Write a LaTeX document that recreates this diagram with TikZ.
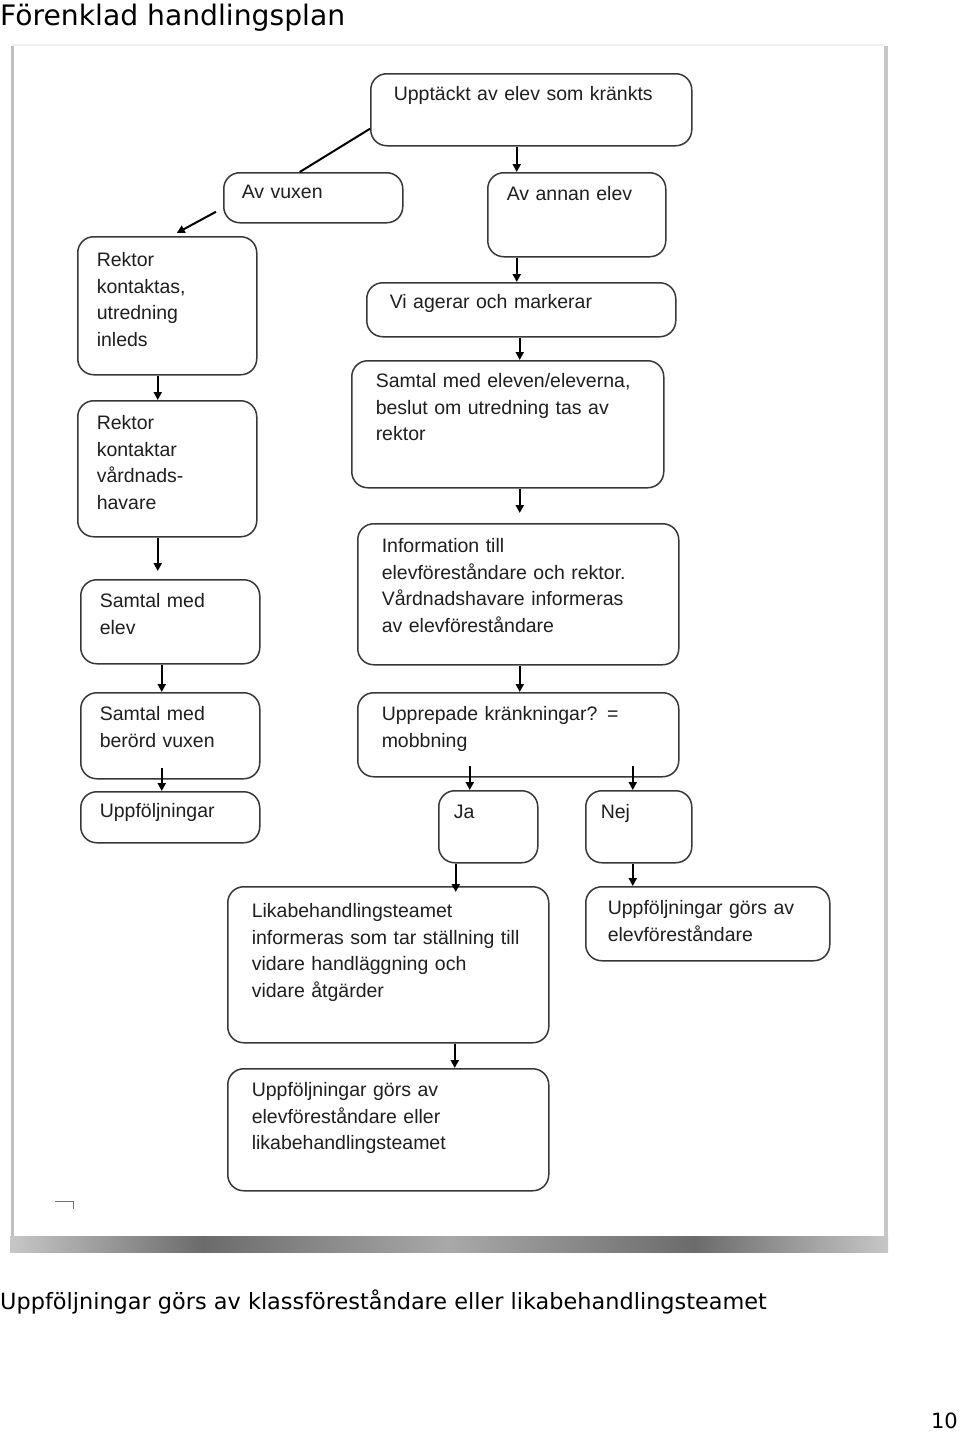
\documentclass[tikz,border=0pt]{standalone}
\usepackage{fontspec}
\setmainfont{Liberation Sans}
\newfontfamily\pagefont{DejaVu Sans}
\usetikzlibrary{arrows.meta}
\pgfdeclarehorizontalshading{curl}{100bp}{color(0bp)=(black!22); color(25bp)=(black!22); color(36bp)=(black!58); color(50bp)=(black!34); color(64bp)=(black!58); color(75bp)=(black!22); color(100bp)=(black!22)}

\begin{document}
\begin{tikzpicture}[x=1pt,y=-1pt,
    box/.style={draw=black!78, line width=1.5pt, rounded corners=16pt, fill=white,
      anchor=north west, inner xsep=19pt, inner ysep=0pt, text height=28pt,
      align=left, text=black!88, font=\fontsize{19.5}{26.5}\selectfont},
    arr/.style={line width=2pt, -{Triangle[length=8pt,width=8pt]}},
    heading/.style={font=\pagefont\fontsize{28.2}{34}\selectfont, inner sep=0pt},
    pagetext/.style={font=\pagefont\fontsize{22.4}{26}\selectfont, inner sep=0pt}]
  \useasboundingbox (0,0) rectangle (960,1432);

  % the page and its shadow
  \draw[black!6, line width=2pt] (12,45) -- (884,45);
  \draw[black!25, line width=3pt] (12,46) -- (12,1237);
  \draw[black!22, line width=4pt] (886,46) -- (886,1237);
  \shade[shading=curl] (10,1236) rectangle (888,1252);
  \draw[black!55, line width=0.8pt] (55,1201) -- (73,1201) -- (73,1209);

  % left column
  \node[box, text width=141pt, text height=30pt, text depth=108pt] (principal) at (77,236)
    {Rektor\\ kontaktas,\\ utredning\\ inleds};
  \node[box, text width=141pt, text height=29pt, text depth=107pt] (guardians) at (77,400)
    {Rektor\\ kontaktar\\ vårdnads-\\ havare};
  \node[box, text width=141pt, text depth=56pt] (talkpupil) at (80,579) {Samtal med\\ elev};
  \node[box, text width=141pt, text depth=58pt] (talkadult) at (80,692) {Samtal med\\ berörd vuxen};
  \node[box, text width=141pt, text height=26pt, text depth=25pt] (followup) at (80,791) {Uppföljningar};

  % top and right column
  \node[box, inner xsep=23pt, text width=275pt, text height=27pt, text depth=45pt] (detect) at (370,73)
    {Upptäckt av elev som kränkts};
  \node[box, inner xsep=18pt, text width=143pt, text height=26pt, text depth=24pt] (adult) at (223,172) {Av vuxen};
  \node[box, text width=140pt, text depth=56pt] (pupil) at (487,172) {Av annan elev};
  \node[box, inner xsep=23pt, text width=263pt, text height=26pt, text depth=28pt] (act) at (366,282)
    {Vi agerar och markerar};
  \node[box, inner xsep=24pt, text width=264pt, text height=27pt, text depth=100pt] (talk) at (351,360)
    {Samtal med eleven/eleverna,\\ beslut om utredning tas av\\ rektor};
  \node[box, inner xsep=24pt, text width=273pt, text height=29pt, text depth=112pt] (inform) at (357,523)
    {Information till\\ elevföreståndare och rektor.\\ Vårdnadshavare informeras\\ av elevföreståndare};
  \node[box, inner xsep=24pt, text width=273pt, text depth=56pt] (repeated) at (357,692)
    {Upprepade kränkningar? =\\ mobbning};
  \node[box, inner xsep=15pt, text width=69pt, text depth=44pt] (yes) at (438,790) {Ja};
  \node[box, inner xsep=15pt, text width=76pt, text depth=44pt] (no) at (585,790) {Nej};
  \node[box, inner xsep=24pt, text width=273pt, text height=31pt, text depth=125pt] (team) at (227,886)
    {Likabehandlingsteamet\\ informeras som tar ställning till\\ vidare handläggning och\\ vidare åtgärder};
  \node[box, inner xsep=22pt, text width=200pt, text depth=46pt] (mentor) at (585,886)
    {Uppföljningar görs av\\ elevföreståndare};
  \node[box, inner xsep=24pt, text width=273pt, text depth=94pt] (final) at (227,1068)
    {Uppföljningar görs av\\ elevföreståndare eller\\ likabehandlingsteamet};

  % connectors
  \draw[line width=2pt] ([yshift=-19pt]detect.west) -- ([xshift=-13.5pt]adult.north);
  \draw[arr] ([xshift=-7pt,yshift=-14pt]adult.west) -- ([xshift=9.5pt,yshift=3pt]principal.north);
  \draw[arr] ([xshift=-14.5pt]detect.south) -- ([xshift=-60pt]pupil.north);
  \draw[arr] ([xshift=-60pt]pupil.south) -- ([xshift=-4.5pt]act.north);
  \draw[arr] ([xshift=-1.5pt]act.south) -- ([xshift=12pt]talk.north);
  \draw[arr] ([xshift=12pt]talk.south) -- ([xshift=1.5pt,yshift=10pt]inform.north);
  \draw[arr] ([xshift=1.5pt]inform.south) -- ([xshift=1.5pt]repeated.north);
  \draw[arr] ([xshift=-9.5pt]principal.south) -- ([xshift=-9.5pt]guardians.north);
  \draw[arr] ([xshift=-9.5pt]guardians.south) -- ([xshift=-12.5pt,yshift=8pt]talkpupil.north);
  \draw[arr] ([xshift=-8.5pt]talkpupil.south) -- ([xshift=-8.5pt]talkadult.north);
  \draw[arr] ([xshift=-8.5pt,yshift=12pt]talkadult.south) -- ([xshift=-8.5pt]followup.north);
  \draw[arr] ([xshift=-48.5pt,yshift=12pt]repeated.south) -- ([xshift=-18.5pt]yes.north);
  \draw[arr] ([xshift=114.5pt,yshift=12pt]repeated.south) -- ([xshift=-6pt]no.north);
  \draw[arr] ([xshift=-32.5pt]yes.south) -- ([xshift=67.5pt,yshift=-6pt]team.north);
  \draw[arr] ([xshift=-6pt]no.south) -- ([xshift=-75pt]mentor.north);
  \draw[arr] ([xshift=66.5pt]team.south) -- ([xshift=66.5pt]final.north);

  % texts round the figure
  \node[heading, anchor=base west] (title) at (0,25) {Förenklad handlingsplan};
  \node[pagetext, anchor=base west] (caption) at (0,1309)
    {Uppföljningar görs av klassföreståndare eller likabehandlingsteamet};
  \node[pagetext, font=\pagefont\fontsize{21}{24}\selectfont, anchor=base east] (pageno) at (958,1428) {10};
\end{tikzpicture}
\end{document}
